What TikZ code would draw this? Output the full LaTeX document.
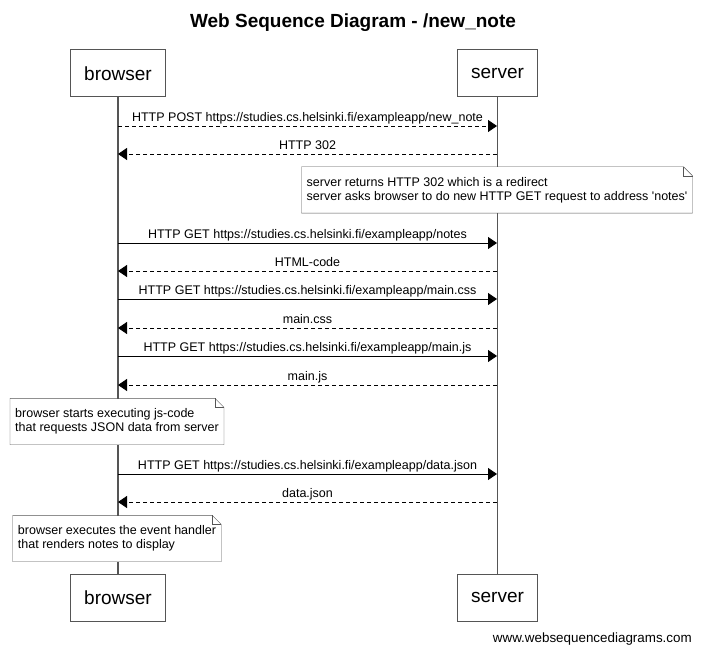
\documentclass[tikz,border=0pt]{standalone}
\usepackage{fontspec}
\setmainfont{Liberation Sans}
\usetikzlibrary{arrows.meta}
\definecolor{linegray}{HTML}{555555}
\newcommand\msgfont{\fontsize{12.5}{14}\selectfont}
\newcommand\notecorner[1]{%
 \draw[linegray] (#1.south west) -- (#1.north west) -- ([xshift=-9pt]#1.north east) -- ([yshift=-9pt]#1.north east) -- (#1.south east) -- cycle;
 \draw[linegray] ([xshift=-9pt]#1.north east) -- ([xshift=-9pt,yshift=-9pt]#1.north east) -- ([yshift=-9pt]#1.north east);}

\begin{document}
\begin{tikzpicture}[x=1pt,y=-1pt,
 actor/.style={draw=linegray,line width=1pt,fill=white,inner xsep=14pt,minimum height=47pt,font=\fontsize{19}{22}\selectfont},
 lifeline/.style={linegray,line width=1.4pt},
 call/.style={black,line width=0.9pt,-{Triangle[length=9pt,width=12pt]}},
 reply/.style={call,dash pattern=on 4pt off 3pt},
 msglabel/.style={midway,above,inner sep=1pt,text height=9pt,text depth=3pt,font=\msgfont},
 notebox/.style={fill=white,align=left,inner xsep=5pt,minimum height=46pt,font=\msgfont}]
 \useasboundingbox (0,0) rectangle (701,652);

 \node[font=\bfseries\fontsize{19}{22}\selectfont] (title) at (353,23) {Web Sequence Diagram - /new\_note};

 \node[actor] (btop) at (118,73.5) {browser};
 \node[actor] (stop) at (497.5,73.5) {server};
 \node[actor] (bbot) at (118,597.5) {browser};
 \node[actor] (sbot) at (497.5,597.5) {server};
 \draw[lifeline] (btop) -- (bbot);
 \draw[lifeline] (stop) -- (sbot);

 \foreach \n/\y in {1/126,2/154,3/243,4/271,5/299,6/328,7/356,8/385,9/474,10/502}
  {\coordinate (b\n) at (118,\y); \coordinate (s\n) at (497,\y);}

 \draw[reply] (b1) -- node[msglabel] {HTTP POST https://studies.cs.helsinki.fi/exampleapp/new\_note} (s1);
 \draw[reply] (s2) -- node[msglabel] {HTTP 302} (b2);
 \node[notebox] (n1) at (497,190) {server returns HTTP 302 which is a redirect\\server asks browser to do new HTTP GET request to address {\textquotesingle}notes{\textquotesingle}};
 \notecorner{n1}
 \draw[call] (b3) -- node[msglabel] {HTTP GET https://studies.cs.helsinki.fi/exampleapp/notes} (s3);
 \draw[reply] (s4) -- node[msglabel] {HTML-code} (b4);
 \draw[call] (b5) -- node[msglabel] {HTTP GET https://studies.cs.helsinki.fi/exampleapp/main.css} (s5);
 \draw[reply] (s6) -- node[msglabel] {main.css} (b6);
 \draw[call] (b7) -- node[msglabel] {HTTP GET https://studies.cs.helsinki.fi/exampleapp/main.js} (s7);
 \draw[reply] (s8) -- node[msglabel] {main.js} (b8);
 \node[notebox] (n2) at (117,421.5) {browser starts executing js-code\\that requests JSON data from server};
 \notecorner{n2}
 \draw[call] (b9) -- node[msglabel] {HTTP GET https://studies.cs.helsinki.fi/exampleapp/data.json} (s9);
 \draw[reply] (s10) -- node[msglabel] {data.json} (b10);
 \node[notebox] (n3) at (117,538.5) {browser executes the event handler\\that renders notes to display};
 \notecorner{n3}

 \node[anchor=east,inner sep=0pt,font=\fontsize{13.4}{15}\selectfont] (site) at (692,639) {www.websequencediagrams.com};
\end{tikzpicture}
\end{document}
